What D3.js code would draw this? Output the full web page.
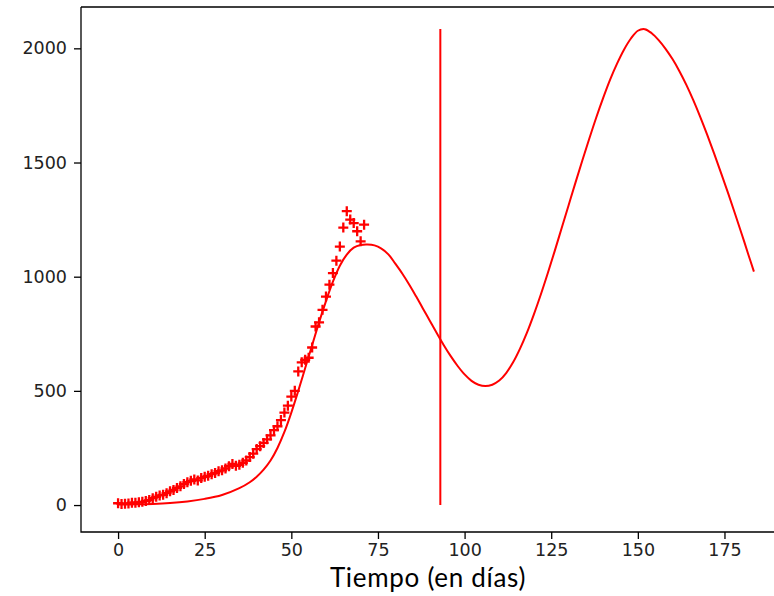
<!DOCTYPE html>
<html>
<head>
<meta charset="utf-8">
<script src="https://cdn.jsdelivr.net/npm/d3@7"></script>
<style>
  html, body { margin: 0; padding: 0; background: #fff; }
  svg { display: block; }
</style>
</head>
<body>
<svg id="chart" width="774" height="596"></svg>
<script>
// ---- Data ----
const observedDays = d3.range(0, 72);
const observedCases = [
  8, 5, 6, 7, 10, 10, 12, 14, 18, 22,
  30, 36, 42, 45, 52, 60, 66, 75, 82, 92,
  100, 106, 112, 108, 118, 124, 128, 135, 140, 148,
  152, 160, 170, 180, 172, 176, 185, 195, 210, 225,
  245, 258, 272, 288, 305, 328, 345, 372, 405, 435,
  475, 500, 585, 625, 636, 645, 690, 782, 800, 855,
  913, 965, 1016, 1070, 1132, 1215, 1287, 1250, 1235, 1199,
  1155, 1228
];

const modelDays = [0, 5, 10, 15, 20, 25, 30, 35, 38, 40, 42, 44, 46, 48, 50, 52, 54, 56, 58, 60, 62, 64, 66, 68, 70, 72, 74, 76, 78, 80, 82, 84, 86, 88, 90, 92, 94, 96, 98, 100, 102, 104, 106, 108, 110, 112, 114, 116, 118, 120, 122, 124, 126, 128, 130, 132, 134, 136, 138, 140, 142, 144, 146, 148, 150, 152, 154, 156, 158, 160, 162, 164, 166, 168, 170, 172, 174, 176, 178, 180, 182, 183.5];
const modelCases = [2, 3, 5, 9, 16, 27, 44, 74, 100, 124, 155, 195, 250, 320, 405, 500, 600, 700, 800, 893, 978, 1048, 1097, 1127, 1139, 1141, 1137, 1123, 1098, 1057, 1014, 966, 914, 860, 806, 752, 700, 652, 609, 572, 544, 527, 521, 527, 545, 578, 625, 685, 755, 835, 922, 1015, 1112, 1212, 1312, 1412, 1510, 1605, 1697, 1783, 1863, 1933, 1994, 2043, 2077, 2084, 2066, 2036, 1998, 1953, 1900, 1840, 1773, 1700, 1622, 1540, 1455, 1368, 1278, 1186, 1092, 1022];

const cutDay = 93;
const cutRange = [0, 2085];

const xTicks = [0, 25, 50, 75, 100, 125, 150, 175];
const yTicks = [0, 500, 1000, 1500, 2000];
const xLabel = "Tiempo (en días)";

// ---- Layout ----
const svg = d3.select("#chart");
const mLeft = 81, mTop = 7, mBottom = 532, mRight = 791;

const x = d3.scaleLinear().domain([-10.7, 194.2]).range([mLeft, mRight]);
const y = d3.scaleLinear().domain([-118, 2181]).range([mBottom, mTop]);

const color = "#ff0000";

// model curve
const line = d3.line()
  .x(d => x(d[0]))
  .y(d => y(d[1]))
  .curve(d3.curveCatmullRom.alpha(0.5));

svg.append("path")
  .datum(modelDays.map((d, i) => [d, modelCases[i]]))
  .attr("d", line)
  .attr("fill", "none")
  .attr("stroke", color)
  .attr("stroke-width", 2);

// vertical line
svg.append("line")
  .attr("x1", x(cutDay)).attr("x2", x(cutDay))
  .attr("y1", y(cutRange[0])).attr("y2", y(cutRange[1]))
  .attr("stroke", color)
  .attr("stroke-width", 2);

// observed points as "+"
const half = 5;
const pts = svg.append("g");
observedDays.forEach((d, i) => {
  const cx = x(d), cy = y(observedCases[i]);
  pts.append("path")
    .attr("d", `M${cx - half},${cy}H${cx + half}M${cx},${cy - half}V${cy + half}`)
    .attr("stroke", color)
    .attr("stroke-width", 2.3)
    .attr("fill", "none");
});

// spines
svg.append("path")
  .attr("d", `M${mLeft},${mTop}H774M${mLeft},${mTop}V${mBottom}H774`)
  .attr("fill", "none")
  .attr("stroke", "#000")
  .attr("stroke-width", 1.3);

// axes
const font = "DejaVu Sans";
const xAxis = svg.append("g")
  .attr("transform", `translate(0,${mBottom})`)
  .call(d3.axisBottom(x).tickValues(xTicks).tickSize(7).tickPadding(5).tickFormat(d3.format("d")));
xAxis.select(".domain").remove();
xAxis.selectAll("line").attr("stroke", "#000").attr("stroke-width", 1.3);
xAxis.selectAll("text").attr("font-family", font).attr("font-size", 17.5).attr("fill", "#222");

const yAxis = svg.append("g")
  .attr("transform", `translate(${mLeft},0)`)
  .call(d3.axisLeft(y).tickValues(yTicks).tickSize(7).tickPadding(7).tickFormat(d3.format("d")));
yAxis.select(".domain").remove();
yAxis.selectAll("line").attr("stroke", "#000").attr("stroke-width", 1.3);
yAxis.selectAll("text").attr("font-family", font).attr("font-size", 17.5).attr("fill", "#222");

// x label
svg.append("text")
  .attr("x", 428)
  .attr("y", 587)
  .attr("text-anchor", "middle")
  .attr("font-family", "Lato, 'Open Sans', sans-serif")
  .attr("font-size", 26)
  .attr("letter-spacing", 0.7)
  .attr("fill", "#000")
  .text(xLabel);
</script>
</body>
</html>
